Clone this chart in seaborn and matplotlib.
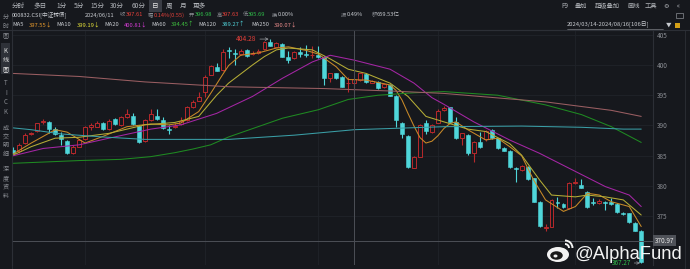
import numpy as np
import pandas as pd
import matplotlib
matplotlib.use("Agg")
import matplotlib.pyplot as plt
import seaborn as sns
from matplotlib.patches import Rectangle, Ellipse, Arc
from matplotlib.lines import Line2D
from matplotlib.transforms import IdentityTransform, blended_transform_factory

# ---------------- data ----------------
opens = [385.95, 385.84, 387.05, 388.54, 389.09, 390.58, 390.63, 389.37, 388.38, 387.44,
         385.40, 386.50, 387.77, 389.81, 389.81, 390.47, 389.42, 391.02, 390.08, 391.35,
         391.57, 389.92, 387.44, 390.91, 391.63, 390.91, 389.48, 389.81, 390.19, 390.91,
         393.00, 394.10, 395.59, 398.40, 399.61, 399.17, 402.48, 402.04, 401.82, 402.48,
         401.82, 401.93, 402.59, 403.86, 403.03, 403.47, 401.38, 401.10, 402.20, 401.76,
         401.60, 401.65, 401.38, 397.80, 398.62, 398.07, 397.00, 396.98, 397.52, 398.51,
         397.08, 397.25, 396.31, 396.69, 394.88, 390.47, 388.26, 383.03, 384.85, 390.36,
         388.98, 390.47, 392.56, 393.00, 390.63, 387.88, 388.43, 385.40, 387.33, 387.71,
         389.26, 387.88, 386.23, 385.84, 382.92, 382.64, 383.20, 381.27, 377.41, 373.00,
         373.28, 377.24, 377.02, 376.31, 380.44, 380.17, 379.06, 377.30, 377.24, 377.41,
         377.41, 377.02, 375.59, 375.48, 373.94, 372.62]
highs = [386.50, 387.05, 388.71, 388.98, 390.47, 391.02, 390.74, 389.70, 388.98, 387.60,
         386.78, 387.77, 389.97, 390.36, 390.69, 390.63, 391.02, 391.19, 391.57, 392.67,
         392.12, 390.08, 391.13, 392.67, 392.67, 391.35, 390.08, 390.36, 391.35, 393.22,
         394.22, 395.59, 398.35, 400.06, 400.28, 402.59, 402.92, 402.59, 402.59, 402.59,
         402.37, 402.59, 404.02, 404.28, 403.80, 403.58, 402.37, 402.37, 403.03, 403.31,
         403.14, 403.14, 401.49, 398.73, 398.73, 398.18, 398.00, 397.63, 398.73, 398.73,
         397.52, 397.41, 396.97, 396.86, 394.99, 390.63, 388.43, 384.96, 390.19, 390.91,
         390.25, 392.67, 393.22, 393.10, 391.46, 388.80, 388.60, 387.50, 388.98, 389.30,
         389.40, 388.00, 386.40, 386.00, 383.08, 383.50, 383.30, 381.40, 377.50, 373.72,
         377.80, 378.13, 377.20, 380.70, 381.27, 381.10, 379.20, 377.96, 377.80, 377.60,
         377.96, 377.20, 375.70, 375.60, 374.10, 372.75]
lows = [385.29, 385.51, 386.94, 388.38, 388.98, 390.25, 388.71, 388.38, 386.78, 385.29,
        385.29, 386.39, 387.60, 389.26, 389.70, 389.26, 389.26, 390.08, 389.92, 391.19,
        390.08, 387.05, 387.27, 390.80, 390.91, 389.37, 388.60, 389.53, 390.03, 390.80,
        392.89, 393.99, 394.77, 398.29, 398.95, 399.06, 401.10, 400.00, 401.60, 401.38,
        401.65, 401.82, 402.48, 403.09, 402.92, 401.27, 400.28, 400.94, 401.38, 401.27,
        401.10, 401.10, 396.69, 397.25, 397.63, 396.31, 395.50, 395.69, 397.41, 397.08,
        396.97, 396.03, 396.14, 394.88, 389.70, 387.88, 382.92, 382.92, 384.74, 388.60,
        388.82, 390.36, 392.45, 390.50, 387.70, 386.78, 385.20, 384.02, 386.23, 387.50,
        387.70, 386.10, 385.70, 383.00, 380.72, 382.50, 381.00, 377.30, 373.20, 372.62,
        373.20, 376.31, 376.30, 376.20, 380.30, 379.60, 376.40, 376.86, 377.10, 376.03,
        376.90, 375.60, 375.20, 373.90, 372.50, 367.27]
closes = [385.51, 386.78, 388.43, 388.82, 390.36, 390.74, 389.48, 388.54, 387.71, 385.40,
          386.50, 387.60, 389.81, 390.08, 390.47, 389.42, 390.80, 390.25, 391.35, 391.90,
          390.25, 387.33, 390.91, 391.85, 391.07, 389.59, 389.26, 389.97, 390.80, 393.00,
          393.94, 394.66, 398.07, 399.83, 399.06, 402.15, 402.31, 401.87, 402.37, 401.54,
          402.04, 402.37, 403.86, 403.20, 403.69, 401.38, 400.83, 402.20, 401.82, 401.60,
          401.65, 401.27, 397.80, 398.62, 397.80, 396.42, 397.05, 397.61, 398.62, 397.25,
          397.41, 396.14, 396.86, 394.93, 390.91, 388.60, 383.20, 384.85, 390.08, 389.15,
          390.08, 392.45, 392.95, 390.63, 387.88, 388.70, 385.40, 387.33, 386.50, 389.15,
          387.88, 386.23, 385.84, 383.20, 382.86, 383.30, 381.10, 377.41, 373.39, 373.28,
          377.69, 377.19, 376.47, 380.55, 380.72, 379.72, 376.58, 377.24, 377.52, 377.13,
          377.02, 375.76, 375.37, 374.10, 372.62, 367.49]

# moving-average lines, read at sample days: (day index, value)
ma5_days = [0, 3, 7, 9, 12, 15, 19, 23, 26, 28, 31, 33, 35, 36, 38, 41, 44, 46, 49, 51, 54, 56, 59, 63,
            64, 65, 66, 67, 68, 69, 70, 71, 72, 73, 74, 76, 79, 81, 83, 85, 87, 89, 92, 94, 96, 98, 100, 103, 105]
ma5_vals = [385.3, 387.1, 389.3, 388.9, 387.1, 388.2, 389.8, 390.25, 390.1, 390.4, 392.3, 395.3, 398.4, 399.9,
            401.6, 402.0, 402.8, 403.0, 402.4, 401.8, 399.7, 397.6, 397.5, 396.7,
            395.8, 394.2, 392.0, 389.9, 388.0, 387.1, 387.4, 388.3, 389.5, 390.3, 390.6, 389.3, 387.6, 387.9,
            386.5, 385.0, 381.0, 377.7, 375.8, 376.6, 378.8, 378.5, 377.4, 376.6, 373.3]
ma10_days = [0, 3, 7, 11, 16, 22, 27, 31, 34, 36, 40, 42, 44, 46, 50, 53, 56, 59, 63, 66, 69, 72, 76, 79,
             81, 83, 85, 88, 90, 94, 96, 99, 102, 105]
ma10_vals = [385.1, 386.5, 387.9, 388.05, 388.7, 390.1, 390.5, 391.5, 395.0, 397.0, 400.0, 401.4, 402.5,
             402.8, 402.5, 401.0, 399.3, 398.6, 397.0, 394.8, 391.5, 390.6, 389.4, 389.0, 388.0, 387.0,
             385.1, 381.0, 378.5, 378.2, 378.5, 378.2, 377.7, 375.2]
ma20_days = [0, 5, 11, 16, 23, 28, 34, 40, 45, 50, 53, 57, 63, 67, 70, 72, 77, 83, 88, 94, 99, 103, 105]
ma20_vals = [385.0, 386.2, 386.8, 387.9, 389.4, 390.1, 392.0, 394.8, 397.8, 400.5, 401.6, 400.8, 399.3,
             397.0, 394.6, 393.5, 390.6, 387.6, 385.4, 382.4, 379.9, 378.5, 376.6]
ma60_days = [0, 11, 18, 23, 27, 30, 33, 36, 45, 51, 56, 61, 67, 72, 81, 89, 95, 100, 105]
ma60_vals = [383.75, 384.2, 384.4, 384.85, 385.5, 386.1, 386.8, 388.1, 391.2, 392.6, 394.3, 395.0, 395.4,
             395.6, 395.0, 393.4, 391.8, 389.8, 387.2]
ma120_days = [0, 3, 8, 15, 22, 36, 47, 57, 63, 72, 85, 95, 102, 105]
ma120_vals = [389.6, 389.3, 388.6, 388.1, 387.7, 387.7, 388.4, 389.3, 389.5, 389.8, 389.9, 389.7, 389.4, 389.4]
ma250_days = [0, 11, 22, 36, 52, 63, 72, 78, 89, 100, 105]
ma250_vals = [398.6, 398.1, 397.2, 396.4, 396.1, 395.7, 395.3, 394.8, 393.9, 392.5, 391.5]

price_ticks = [375, 380, 385, 390, 395, 400, 405]
month_start_days = [12, 32, 51, 71, 94]
cursor_day = 57
cursor_price = 370.97
hi_day, hi_price = 43, 404.28
lo_day, lo_price = 105, 367.27

# ---------------- style ----------------
BG = "#16181d"
GRID = "#202329"
AXC = "#8a8d93"
UP = "#b8292c"
DOWN = "#4fd6da"
RED = "#e5403a"
GREEN = "#2fbf4a"

sns.set_theme(style="dark", rc={"axes.facecolor": BG, "figure.facecolor": BG,
                                "savefig.facecolor": BG})
plt.rcParams["font.family"] = ["Noto Sans CJK SC", "DejaVu Sans"]

W, H = 690, 269
fig = plt.figure(figsize=(W / 100, H / 100), dpi=100)
ax = fig.add_axes([12 / W, 4 / H, 641 / W, 235 / H])
ax.set_facecolor(BG)

# candles
days = np.arange(len(opens))
o = np.array(opens); c = np.array(closes); hi = np.array(highs); lo = np.array(lows)
up = c >= o
wick_col = np.where(up, UP, DOWN)
ax.vlines(days, lo, hi, colors=wick_col, linewidth=0.8, zorder=2)
body_bottom = np.minimum(o, c)
body_h = np.maximum(np.abs(c - o), 0.1)
ax.bar(days[up], body_h[up], bottom=body_bottom[up], width=0.66,
       color=BG, edgecolor=UP, linewidth=0.7, zorder=3)
ax.bar(days[~up], body_h[~up], bottom=body_bottom[~up], width=0.66,
       color=DOWN, edgecolor=DOWN, linewidth=0.4, zorder=3)

# moving averages
ma_frames = []
for name, dd, vv in [("MA5", ma5_days, ma5_vals), ("MA10", ma10_days, ma10_vals),
                     ("MA20", ma20_days, ma20_vals), ("MA60", ma60_days, ma60_vals),
                     ("MA120", ma120_days, ma120_vals), ("MA250", ma250_days, ma250_vals)]:
    ma_frames.append(pd.DataFrame({"day": dd, "value": vv, "ma": name}))
ma_df = pd.concat(ma_frames, ignore_index=True)
line_pal = {"MA5": "#c98a28", "MA10": "#b5ad36", "MA20": "#a526a5",
            "MA60": "#1f8a22", "MA120": "#3a9ea6", "MA250": "#9a5e62"}
sns.lineplot(data=ma_df, x="day", y="value", hue="ma", palette=line_pal,
             linewidth=0.75, legend=False, ax=ax, estimator=None, sort=True, zorder=4)

# axes cosmetics
ax.set_xlim(-0.22, 106.97)
ax.set_ylim(366.94, 405.78)
ax.set_xlabel(""); ax.set_ylabel("")
ax.set_xticks([])
ax.yaxis.tick_right()
ax.set_yticks(price_ticks)
ax.set_yticklabels([str(t) for t in price_ticks])
ax.tick_params(axis="y", length=0, pad=3, labelsize=4.6, labelcolor=AXC)
ax.grid(axis="y", color=GRID, linewidth=0.6)
ax.grid(axis="x", visible=False)
for d in month_start_days:
    ax.axvline(d, color=GRID, linewidth=0.6, zorder=1)
for sp in ["left", "top", "right"]:
    ax.spines[sp].set_visible(True)
    ax.spines[sp].set_color("#2c2f36")
    ax.spines[sp].set_linewidth(0.8)
ax.spines["bottom"].set_visible(False)

# crosshair
ax.axvline(cursor_day, color="#4c4f56", linewidth=0.7, zorder=5)
ax.axhline(cursor_price, color="#4c4f56", linewidth=0.7, zorder=5)
bt = blended_transform_factory(ax.transAxes, ax.transData)
ax.text(1.003, cursor_price, f"{cursor_price:.2f}", transform=bt, ha="left", va="center",
        fontsize=4.6, color="#e6e6e6", clip_on=False,
        bbox=dict(boxstyle="square,pad=0.25", fc="#4e5158", ec="none"))

# max / min markers
ax.annotate(f"{hi_price:.2f}", xy=(hi_day - 0.3, hi_price), xytext=(-12, 0),
            textcoords="offset pixels", ha="right", va="center", fontsize=4.8, color=RED,
            arrowprops=dict(arrowstyle="->", color="#9a9da3", lw=0.5, shrinkA=0, shrinkB=0))
ax.annotate(f"{lo_price:.2f}", xy=(lo_day - 0.2, lo_price), xytext=(-9, 0),
            textcoords="offset pixels", ha="right", va="center", fontsize=4.6, color=GREEN,
            arrowprops=dict(arrowstyle="->", color="#9a9da3", lw=0.5, shrinkA=0, shrinkB=0))


# ---------------- header / chrome texts ----------------
def T(x, y, s, color="#b4b7bc", size=4.5, ha="left", **kw):
    fig.text(x / W, 1 - y / H, s, color=color, fontsize=size, ha=ha, va="center", **kw)


# toolbar
fig.add_artist(Rectangle((149 / W, 1 - 12 / H), 13 / W, 12 / H, transform=fig.transFigure,
                         fc="#3a3d45", ec="none"))
for s, x in [("分时", 12), ("多日", 33), ("1分", 56), ("5分", 74), ("15分", 90), ("30分", 110),
             ("60分", 132), ("日", 152), ("周", 166), ("月", 180), ("更多", 193)]:
    T(x, 6, s, color="#e8e8e8" if s == "日" else "#b0b3b8", size=4.8)
for s, x in [("F9", 561), ("叠加", 575), ("超级叠加", 595), ("画线", 627), ("工具", 645),
             ("⚙", 663), ("«", 677)]:
    T(x, 6, s, color="#b0b3b8", size=4.5)

# quote row
quote = [(12, "000832.CSI[中证转债]", "#c8cbd0"), (85, "2024/06/11", "#c8cbd0"),
         (120, "收", AXC), (125.5, "397.61", RED), (148, "幅", AXC), (153.5, "0.14%(0.55)", RED),
         (189, "开", AXC), (194.5, "396.98", GREEN), (216.5, "高", AXC), (222, "397.63", RED),
         (242.5, "低", AXC), (248, "395.69", GREEN), (272, "换", AXC), (277.5, "0.00%", "#c8cbd0"),
         (341, "振", AXC), (346.5, "0.49%", "#c8cbd0"), (371.5, "额", AXC), (377, "659.53亿", "#c8cbd0")]
for x, s, col in quote:
    sz = 3.8 if len(s) == 1 else 4.1
    T(x, 15, s, color=col, size=sz)

# MA legend row
ma_text = [(12, "MA5", "#c8cbd0"), (29, "397.55↓", "#e89a2c"),
           (56, "MA10", "#c8cbd0"), (77, "399.19↓", "#e6e23a"),
           (104, "MA20", "#c8cbd0"), (124, "400.81↓", "#d33bd3"),
           (151, "MA60", "#c8cbd0"), (171, "394.45↑", "#3fbf3f"),
           (198, "MA120", "#c8cbd0"), (222, "389.27↑", "#4fcfd6"),
           (251, "MA250", "#c8cbd0"), (274, "390.07↓", "#e88a8a")]
for x, s, col in ma_text:
    T(x, 24.5, s, color=col, size=4.2)

T(567, 25, "2024/03/14-2024/08/16[106日]", color="#c8cbd0", size=4.2)
fig.add_artist(Line2D([567 / W, 663 / W], [1 - 28.5 / H] * 2, transform=fig.transFigure,
                      color="#9a9da3", lw=0.4))
T(666, 25, "▼", color="#c8cbd0", size=4.0)
fig.add_artist(Rectangle((675 / W, 1 - 28 / H), 5 / W, 5 / H, transform=fig.transFigure,
                         fc="#d4a017", ec="none"))
fig.add_artist(Rectangle((676 / W, 1 - 18 / H), 7 / W, 5 / H, transform=fig.transFigure,
                         fc="none", ec="#8a8d93", lw=0.5))

# frame lines
fig.add_artist(Line2D([0, 1], [1 - 30 / H] * 2, transform=fig.transFigure, color="#2c2f36", lw=0.8))
fig.add_artist(Line2D([685 / W] * 2, [0, 1 - 30 / H], transform=fig.transFigure, color="#2c2f36", lw=0.6))
fig.add_artist(Line2D([11.5 / W] * 2, [0, 1 - 13 / H], transform=fig.transFigure, color="#2c2f36", lw=0.6))

# left sidebar
fig.add_artist(Rectangle((1 / W, 1 - 74 / H), 9.5 / W, 31 / H, transform=fig.transFigure,
                         fc="#2e3138", ec="none"))
side = [("分", 17), ("时", 26), ("图", 35), ("K", 51), ("线", 60), ("图", 69),
        ("T", 83), ("I", 93), ("C", 102), ("K", 112),
        ("成", 128), ("交", 136.5), ("明", 145), ("细", 154),
        ("深", 169), ("度", 178), ("资", 187), ("料", 196)]
for s, y in side:
    col = "#e6e6e6" if 45 < y < 74 else "#8a8d93"
    T(5.8, y, s, color=col, size=4.4, ha="center")

# watermark
idt = IdentityTransform()
fig.add_artist(Ellipse((558, 14.5), 22, 15, transform=idt, fc="#f2f2f2", ec="none"))
fig.add_artist(Ellipse((556.5, 13.5), 12.5, 8.5, transform=idt, fc="#1a1a1a", ec="none"))
fig.add_artist(Ellipse((555.5, 13), 4, 3, transform=idt, fc="#f2f2f2", ec="none"))
fig.add_artist(Arc((565, 21), 8, 8, theta1=0, theta2=90, transform=idt, color="#f2f2f2", lw=1.4))
fig.add_artist(Arc((565, 21), 15, 15, theta1=0, theta2=90, transform=idt, color="#f2f2f2", lw=1.4))
fig.text(575 / W, 1 - 259 / H, "@AlphaFund", color="#f4f4f4", fontsize=13.2,
         family=["Liberation Sans", "DejaVu Sans"], ha="left", va="baseline")

fig.savefig("out.png", dpi=100, facecolor=BG)
